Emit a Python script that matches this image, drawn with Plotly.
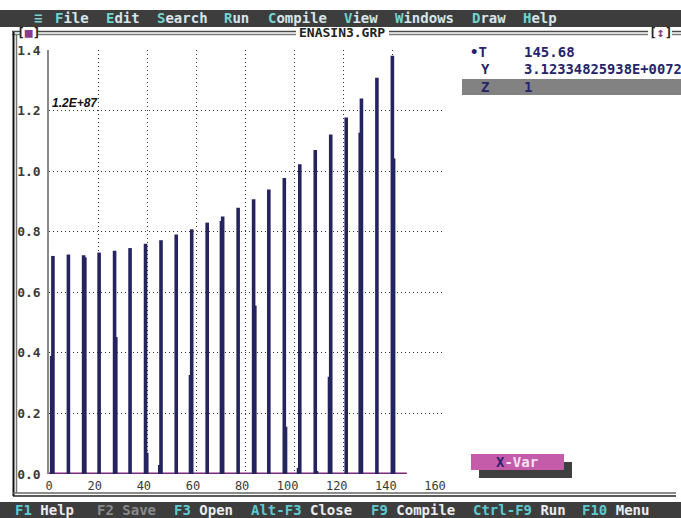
import plotly.graph_objects as go

# ---- data -------------------------------------------------------------
# positions (T) of the spikes and their peak heights (in units of 1.2E+87)
spike_t = [1.6, 7.9, 14.1, 20.4, 26.7, 33.0, 39.3, 45.6, 51.8, 58.1, 64.4, 70.7,
           77.0, 83.3, 89.5, 95.8, 102.1, 108.4, 114.7, 121.0, 127.2, 133.5, 139.8]
spike_peak = [0.720, 0.725, 0.722, 0.731, 0.737, 0.746, 0.760, 0.772, 0.791, 0.808,
              0.830, 0.850, 0.879, 0.907, 0.939, 0.977, 1.023, 1.070, 1.121, 1.177,
              1.240, 1.308, 1.381]
# neighbouring sample of each spike (height, side: -1 left / +1 right)
spike_side = [0.39, 0.0, 0.715, 0.0, 0.452, 0.0, 0.07, 0.03, 0.0, 0.327, 0.0, 0.835,
              0.0, 0.556, 0.0, 0.156, 0.02, 0.01, 0.321, 0.0, 1.127, 0.0, 1.042]
side_dir = [-1, 1, 1, 1, 1, 1, 1, -1, 1, -1, 1, -1,
            1, 1, 1, 1, -1, 1, -1, 1, -1, 1, 1]

t_start = 0.0
t_end = 145.68
y_text = "3.12334825938E+0072"
z_text = "1"
scale_text = "1.2E+87"

x_ticks = [0, 20, 40, 60, 80, 100, 120, 140, 160]
y_ticks = [0.0, 0.2, 0.4, 0.6, 0.8, 1.0, 1.2, 1.4]

menu_items = ["File", "Edit", "Search", "Run", "Compile", "View", "Windows", "Draw", "Help"]
menu_x = [53, 104, 155, 222, 266, 342, 393, 470, 521]
status_items = [("F1", "Help", 13), ("F2", "Save", 95), ("F3", "Open", 172),
                ("Alt-F3", "Close", 249), ("F9", "Compile", 369),
                ("Ctrl-F9", "Run", 471), ("F10", "Menu", 580)]

# ---- page geometry helpers (pixels -> paper) --------------------------
W, H = 681, 518


def px(x):
    return x / W


def py(y):
    return 1 - y / H


NAVY = "#26245f"
PURPLE = "#7d2a78"
MONO = "DejaVu Sans Mono"

# ---- traces -------------------------------------------------------------
sx, sy = [], []
dx = 0.5
for t, p, s, d in zip(spike_t, spike_peak, spike_side, side_dir):
    sx += [t, t, None]
    sy += [0, p, None]
    if s > 0:
        sx += [t + d * dx, t + d * dx, None]
        sy += [0, s, None]

fig = go.Figure()
fig.add_trace(go.Scatter(x=[t_start, t_end], y=[0, 0], mode="lines",
                         line=dict(color=PURPLE, width=3), hoverinfo="skip"))
fig.add_trace(go.Scatter(x=sx, y=sy, mode="lines",
                         line=dict(color=NAVY, width=3.6), hoverinfo="skip"))

# ---- chrome: menu bar, window frame, status bar ------------------------
shapes = []


def rect(x0, y0, x1, y1, color):
    shapes.append(dict(type="rect", xref="paper", yref="paper",
                       x0=px(x0), x1=px(x1), y0=py(y1), y1=py(y0),
                       fillcolor=color, line=dict(width=0), layer="below"))


def hline(x0, x1, y, color, w):
    shapes.append(dict(type="line", xref="paper", yref="paper",
                       x0=px(x0), x1=px(x1), y0=py(y), y1=py(y),
                       line=dict(color=color, width=w)))


def vline(x, y0, y1, color, w):
    shapes.append(dict(type="line", xref="paper", yref="paper",
                       x0=px(x), x1=px(x), y0=py(y0), y1=py(y1),
                       line=dict(color=color, width=w)))


rect(0, 10, W, 27, "#3d3d3d")          # menu bar
rect(0, 502, W, H, "#3d3d3d")          # status bar
rect(462, 79, W, 95, "#828282")        # highlighted Z row
rect(479, 462, 572, 478, "#3f3f3f")    # button shadow
rect(471, 454, 564, 470, "#c45ca9")    # X-Var button

# top frame (double line), broken by the icons and the title
for a, b in [(12, 20), (37, 296), (389, 648), (672, W)]:
    hline(a, b, 31.5, "#4a4a4a", 1.5)
    hline(a, b, 34.5, "#7a7a7a", 1.5)
# left frame
vline(13.5, 32, 496, "#111111", 2)
vline(16.5, 35, 493, "#777777", 1.5)
# bottom frame
hline(13, 676, 493, "#666666", 1.5)
hline(13, 676, 496, "#222222", 1.5)

ann = []


def text(x, y, s, color="#222222", size=14, anchor="left", family=MONO, bold=True):
    ann.append(dict(xref="paper", yref="paper", x=px(x), y=py(y), text=s,
                    showarrow=False, xanchor=anchor, yanchor="middle",
                    font=dict(family=family, size=size, color=color,
                              weight="bold" if bold else "normal")))


text(32, 18, "≡", "#7fd0d0", 14)
for word, x in zip(menu_items, menu_x):
    text(x, 18, f'<span style="color:#6fd6d0">{word[0]}</span>{word[1:]}', "#d6e6ea", 14)

for key, word, x in status_items:
    if key == "F2":
        text(x, 510, f"{key} {word}", "#8a8a8a", 14)
    else:
        text(x, 510, f'<span style="color:#5cc9d2">{key}</span> {word}', "#ececec", 14)

text(28, 33, '[<span style="color:#8b3b8b">■</span>]', "#222222", 13, "center")
text(660, 33, '[<span style="color:#8b3b8b">↕</span>]', "#222222", 13, "center")
text(342, 33, "ENASIN3.GRP", "#222222", 13, "center")

# variable panel
text(468, 52, "•T", "#26246a", 14)
text(522, 52, f"{t_end:.2f}", "#26246a", 14)
text(479, 69, "Y", "#26246a", 14)
text(522, 69, y_text, "#26246a", 13.8)
text(479, 87, "Z", "#26246a", 14)
text(522, 87, z_text, "#26246a", 14)

text(517, 462, '<span style="color:#2a2070">X</span>-Var', "#f4e4f2", 14, "center")

# scale factor of the Y axis
text(50, 103, f"<i>{scale_text}</i>", "#111111", 12, "left", "Liberation Sans")

# ---- axes -------------------------------------------------------------------
nb = "\u00a0"
grid = dict(showgrid=True, gridcolor="#333333", griddash="1px,3px", gridwidth=1)
fig.update_layout(
    width=W, height=H,
    margin=dict(l=0, r=0, t=0, b=0),
    paper_bgcolor="white", plot_bgcolor="white",
    showlegend=False,
    shapes=shapes, annotations=ann,
    xaxis=dict(domain=[px(49), px(442)], range=[0, 160],
               tickvals=x_ticks,
               ticktext=[nb * (3 - len(str(v))) + str(v) for v in x_ticks],
               ticklabelshift=-7, ticklabelstandoff=3,
               zeroline=False, showline=False, ticks="",
               tickfont=dict(family=MONO, size=12, color="#3a3a3a"),
               automargin=False, fixedrange=True, **grid),
    yaxis=dict(domain=[py(474), py(50)], range=[0, 1.4],
               tickvals=y_ticks, ticktext=[f"{v:.1f}" for v in y_ticks],
               ticklabelstandoff=4,
               zeroline=False, showline=True, linecolor="#8a8a8a", linewidth=1.5,
               ticks="",
               tickfont=dict(family=MONO, size=13, color="#3a3a3a", weight="bold"),
               automargin=False, fixedrange=True, **grid),
)

fig.write_html("out.html")
